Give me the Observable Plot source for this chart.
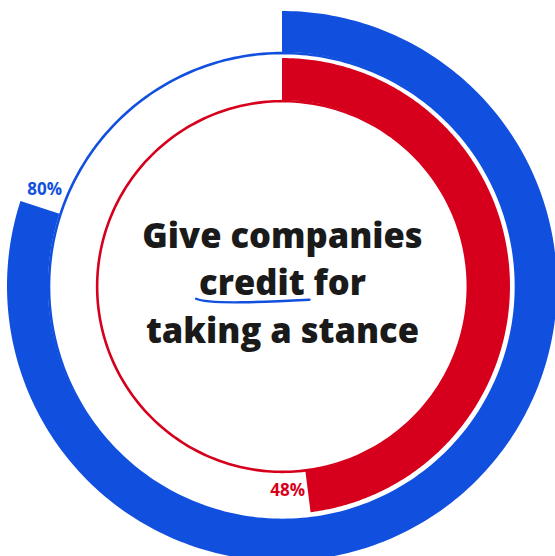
<!DOCTYPE html>
<html><head><meta charset="utf-8">
<script src="https://cdn.jsdelivr.net/npm/d3@7"></script>
<script src="https://cdn.jsdelivr.net/npm/@observablehq/plot@0.6"></script>
<style>html,body{margin:0;padding:0;background:#fff;overflow:hidden}</style>
</head><body><div id="chart"></div>
<script>
// ---- data ----
const rings = ["Outer", "Inner"];
const shares = [0.80, 0.48];
const labels = ["80%", "48%"];
const colors = ["#1150df", "#d6001c"];
const titleLines = ["Give companies", "credit for", "taking a stance"];
const underlinedWord = "credit";

// ---- geometry (radius units, outer ring = 1) ----
const outerR = [1.0, 0.829];
const innerR = [0.851, 0.676];
const N = 300;

function arcPts(i) {
  const end = shares[i] * 2 * Math.PI;
  return d3.range(N + 1).map(k => {
    const a = end * k / N;
    return {ring: rings[i],
      x1: outerR[i] * Math.sin(a), y1: outerR[i] * Math.cos(a),
      x2: innerR[i] * Math.sin(a), y2: innerR[i] * Math.cos(a)};
  });
}
function circlePts(i) {
  const r = innerR[i] - 0.002;
  return d3.range(N + 1).map(k => {
    const a = 2 * Math.PI * k / N;
    return {ring: rings[i], x: r * Math.sin(a), y: r * Math.cos(a)};
  });
}
const labelOffset = [0.073, 0.10];
const labelR = [0.934, 0.742];
const labelData = rings.map((r, i) => {
  const a = shares[i] * 2 * Math.PI + labelOffset[i];
  return {ring: r, text: labels[i], color: colors[i], x: labelR[i] * Math.sin(a), y: labelR[i] * Math.cos(a)};
});

const font = "'Open Sans', Lato, sans-serif";
const plot = Plot.plot({
  width: 555, height: 556,
  margin: 0,
  x: {domain: [-282 / 275, 273 / 275], axis: null},
  y: {domain: [-270 / 275, 286 / 275], axis: null},
  marks: [
    ...rings.map((r, i) => Plot.line(circlePts(i), {x: "x", y: "y", stroke: colors[i], strokeWidth: 2.6})),
    ...rings.map((r, i) => Plot.area(arcPts(i), {x1: "x1", y1: "y1", x2: "x2", y2: "y2", fill: colors[i]})),
    Plot.text(labelData, {x: "x", y: "y", text: "text", fill: "color", fontSize: 17, fontWeight: 700, fontFamily: font}),
    Plot.text([titleLines.join("\n")], {x: 0, y: 0.024, text: d => d, fontSize: 34.5, fontWeight: 800,
      lineHeight: 1.38, fill: "#1a1a1a", fontFamily: font, textAnchor: "middle", lineAnchor: "middle"})
  ]
});
document.getElementById("chart").appendChild(plot);

// underline the highlighted word, measured from the rendered text
const texts = [...plot.querySelectorAll("text")];
const t = texts.find(el => el.textContent.includes(underlinedWord) && el.textContent.includes("stance"));
if (t) {
  const full = titleLines.join("");
  const i0 = full.indexOf(underlinedWord), i1 = i0 + underlinedWord.length - 1;
  const e0 = t.getExtentOfChar(i0), e1 = t.getExtentOfChar(i1);
  const x0 = e0.x - 3, x1 = e1.x + e1.width + 5;
  const base = e0.y + e0.height * 0.78;
  const p = document.createElementNS("http://www.w3.org/2000/svg", "path");
  p.setAttribute("d", `M${x0},${base + 4} C${x0 + 12},${base + 10} ${x1 - 40},${base + 7} ${x1},${base + 5}`);
  p.setAttribute("fill", "none");
  p.setAttribute("stroke", colors[0]);
  p.setAttribute("stroke-width", 2.4);
  p.setAttribute("stroke-linecap", "round");
  const tr = t.getAttribute("transform");
  if (tr) p.setAttribute("transform", tr);
  t.parentNode.appendChild(p);
}
</script></body></html>
